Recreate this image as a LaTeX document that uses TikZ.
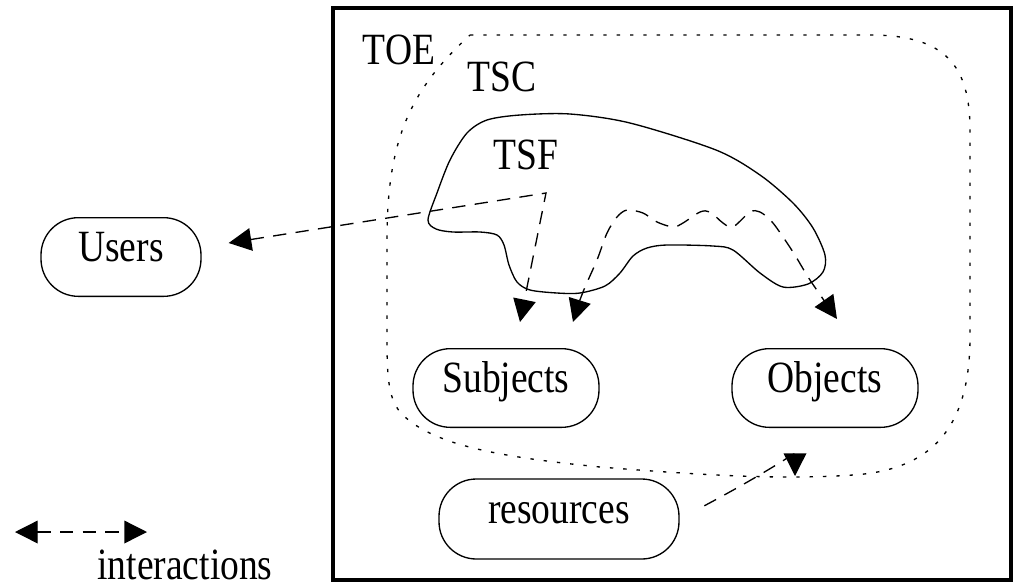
\documentclass[tikz,border=0pt]{standalone}
\usepackage{fontspec}
\setmainfont{Liberation Serif}[FakeStretch=0.84]
\usetikzlibrary{arrows.meta,calc}

\tikzset{
  entity/.style={draw, line width=1pt, rounded corners=28pt, inner sep=0pt,
    text height=0.66em, text depth=0pt, minimum height=59pt},
  interact/.style={line width=1pt, dash pattern=on 10pt off 7pt,
    >={Triangle[length=17pt,width=17pt]}, ->},
  toeline/.style={line width=1pt, dash pattern=on 2.5pt off 7.5pt},
}

\begin{document}
\begin{tikzpicture}[x=0.75pt,y=-0.75pt,font=\fontsize{33.5}{35}\selectfont]
\useasboundingbox (0,0) rectangle (1015,587);
\draw[line width=2.3pt] (333,8) rectangle (1011,580);   % TOE box

% TSC region
\draw[toeline] (470,35) -- (870,35) .. controls (945,35) and (970,65) .. (970,130)
  -- (970,337) .. controls (970,430) and (930,470) .. (853,475)
  .. controls (780,480) and (700,475) .. (600,467)
  .. controls (500,457) and (430,445) .. (400,412)
  .. controls (389,398) and (387,380) .. (387,340)
  -- (387,240) .. controls (387,140) and (410,90) .. (470,35) -- cycle;

% TSF blob
\draw[line width=1pt] plot[smooth cycle] coordinates {
  (428,220) (437,193) (450,160) (467,133) (487,120) (520,115) (570,114)
  (630,123) (716,150) (760,175) (793,203) (813,228) (825,255) (823,272)
  (808,284) (783,287) (760,273) (733,250) (713,246) (667,245) (647,248)
  (633,256) (620,273) (605,286) (580,293) (557,293) (530,290) (517,282)
  (509,265) (504,245) (497,235) (480,232) (453,232) (436,229)};

\node (toe) at (399,50) {TOE};
\node (tsc) at (502,77) {TSC};
\node (tsf) at (526,155) {TSF};

\node[entity, minimum width=120pt] (users) at (121,257) {Users};
\node[entity, minimum width=139.5pt] (subj) at (506,388) {Subjects};
\node[entity, minimum width=139.5pt] (obj) at (825,388) {Objects};
\node[entity, minimum width=180pt, minimum height=60pt] (res) at (559,519) {resources};

\coordinate (tsfc) at (546,193);
\coordinate (usrtip) at ([shift={(27,-14)}]users.east);
\coordinate (subtipa) at ([shift={(14,-26)}]subj.north);
\coordinate (subtipb) at ([shift={(67,-26)}]subj.north);
\coordinate (objtipa) at ([shift={(12,-29)}]obj.north);
\coordinate (objtipb) at ([shift={(-30,48)}]obj.south);

\draw[interact,<->] (usrtip) -- (tsfc) -- (subtipa);
\draw[interact,<->] plot[smooth] coordinates {
  (subtipb) (583,292) (597,260) (607,233) (617,217) (627,210) (643,213)
  (657,222) (673,227) (683,223) (700,212) (710,212) (723,223) (733,227)
  (750,212) (760,212) (773,223) (793,252) (810,280) (objtipa)};
\draw[interact, shorten <=21pt] (res.east) .. controls (775,468) and (795,452) .. (objtipb);

% legend
\coordinate (legl) at (15,532);
\coordinate (legr) at (147,532);
\draw[interact,<->] (legl) -- (legr);
\node[anchor=base, inner sep=0pt] (inter) at (185,579) {interactions};
\end{tikzpicture}
\end{document}
